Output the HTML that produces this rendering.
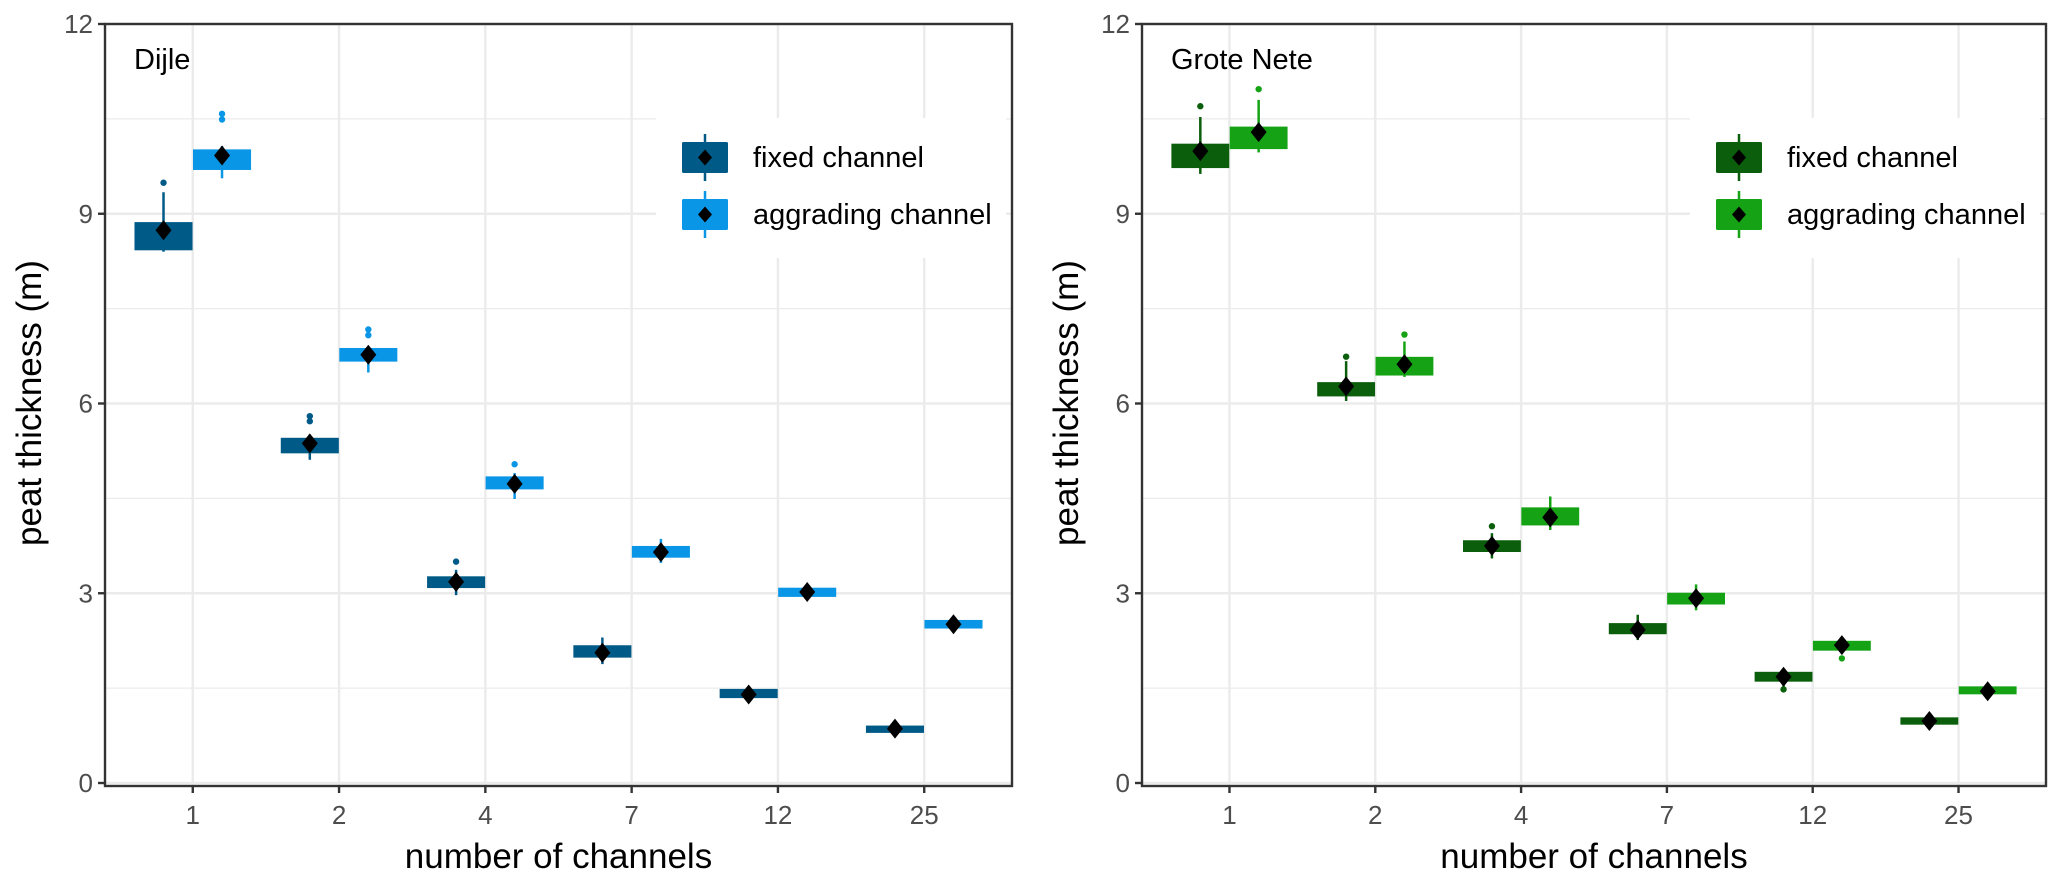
<!DOCTYPE html>
<html><head><meta charset="utf-8"><style>
html,body{margin:0;padding:0;background:#fff;}
svg{display:block;font-family:"Liberation Sans",Arial,sans-serif;}
</style></head><body>
<svg id="chart" width="2067" height="885" viewBox="0 0 2067 885" xmlns="http://www.w3.org/2000/svg"></svg>
<script>
const categories = ["1","2","4","7","12","25"];
const yTicks = [0,3,6,9,12];
const yMinor = [1.5,4.5,7.5,10.5];
const seriesNames = ["fixed channel","aggrading channel"];
// each box: [lowerWhisker, q1, q3, upperWhisker, mean]
const dijleFixed = [[8.4,8.43,8.86,9.34,8.74],[5.11,5.22,5.45,5.51,5.37],[2.97,3.09,3.26,3.37,3.18],[1.88,1.99,2.17,2.3,2.06],[1.28,1.35,1.48,1.5,1.40],[0.76,0.8,0.9,0.94,0.86]];
const dijleAgg = [[9.56,9.70,10.01,10.07,9.92],[6.49,6.67,6.87,6.9,6.77],[4.49,4.65,4.84,4.9,4.73],[3.48,3.57,3.74,3.86,3.65],[2.9,2.95,3.08,3.12,3.02],[2.40,2.45,2.57,2.62,2.51]];
const dijleFixedOut = [[9.49],[5.72,5.80],[3.5],[],[],[]];
const dijleAggOut = [[10.49,10.58],[7.08,7.17],[5.04],[],[],[]];
const neteFixed = [[9.63,9.73,10.1,10.53,9.99],[6.04,6.12,6.33,6.67,6.27],[3.55,3.66,3.83,3.95,3.75],[2.26,2.36,2.52,2.66,2.42],[1.52,1.61,1.75,1.78,1.68],[0.87,0.93,1.03,1.07,0.98]];
const neteAgg = [[9.97,10.03,10.37,10.8,10.29],[6.42,6.45,6.73,6.98,6.62],[4.0,4.08,4.35,4.53,4.2],[2.73,2.83,3.0,3.14,2.92],[2.05,2.1,2.24,2.28,2.18],[1.36,1.41,1.52,1.56,1.45]];
const neteFixedOut = [[10.7],[6.74],[4.06],[],[1.48],[]];
const neteAggOut = [[10.97],[7.09],[],[],[1.97],[]];

const NS="http://www.w3.org/2000/svg";
const svg=document.getElementById('chart');
function mk(tag,attrs,parent){const e=document.createElementNS(NS,tag);for(const k in attrs)e.setAttribute(k,attrs[k]);(parent||svg).appendChild(e);return e;}

const panels=[
 {key:'dijle',label:'Dijle',x0:105,x1:1012,cols:['#005a87','#0a96e6'],data:[dijleFixed,dijleAgg],outs:[dijleFixedOut,dijleAggOut]},
 {key:'grote-nete',label:'Grote Nete',x0:1142,x1:2046,cols:['#0b5e0b','#15a315'],data:[neteFixed,neteAgg],outs:[neteFixedOut,neteAggOut]}
];
const yTop=24,yBot=786;
const y=v=>783-v*(783-24)/12;

panels.forEach(p=>{
  const g=mk('g',{});
  
  
  const n=categories.length;
  const step=(p.x1-p.x0)/(n-1+1.2);
  const xc=i=>p.x0+step*(0.6+i);
  // grid
  yMinor.forEach(v=>{const l=mk('line',{x1:p.x0,x2:p.x1,y1:y(v),y2:y(v),stroke:'#ebebeb','stroke-width':1.2},g);
    });
  yTicks.forEach(v=>{const l=mk('line',{x1:p.x0,x2:p.x1,y1:y(v),y2:y(v),stroke:'#ebebeb','stroke-width':2.4},g);
    });
  categories.forEach((c,i)=>{const l=mk('line',{x1:xc(i),x2:xc(i),y1:yTop,y2:yBot,stroke:'#ebebeb','stroke-width':2.4},g);
    });
  // legend
  const lg=mk('g',{},g);
  
  
  const lx=p.x1-356;
  mk('rect',{x:lx,y:118,width:350,height:140,fill:'#fff'},lg);
  seriesNames.forEach((s,k)=>{
    const ky=142+k*57;
    const e=mk('g',{},lg);
    
    
    const kx=lx+26;
    mk('line',{x1:kx+23,x2:kx+23,y1:ky-8,y2:ky+39,stroke:p.cols[k],'stroke-width':2.5},e);
    mk('rect',{x:kx,y:ky,width:46,height:31,fill:p.cols[k],rx:1.5},e);
    mk('path',{d:`M${kx+23} ${ky+7.5}l7 8l-7 8l-7 -8z`,fill:'#000'},e);
    const t=mk('text',{x:lx+97,y:ky+25,'font-size':29,fill:'#000'},e);t.textContent=s;
  });
  // boxes
  p.data.forEach((ser,k)=>{
    ser.forEach((d,i)=>{
      const cx=xc(i)+(k?0.2:-0.2)*step, w=0.39*step;
      const b=mk('g',{},g);
      
      
      mk('line',{x1:cx,x2:cx,y1:y(d[0]),y2:y(d[3]),stroke:p.cols[k],'stroke-width':2.5},b);
      mk('rect',{x:cx-w/2,y:y(d[2]),width:w,height:Math.max(2,y(d[1])-y(d[2])),fill:p.cols[k],stroke:p.cols[k],'stroke-width':1},b);
      p.outs[k][i].forEach(o=>{const c=mk('circle',{cx:cx,cy:y(o),r:3.2,fill:p.cols[k]},b);
        });
      const m=mk('path',{d:`M${cx} ${y(d[4])-10}l8 10l-8 10l-8 -10z`,fill:'#000'},b);
      
    });
  });
  // border
  const br=mk('rect',{x:p.x0,y:yTop,width:p.x1-p.x0,height:yBot-yTop,fill:'none',stroke:'#333','stroke-width':2.4},g);
  
  // y ticks
  yTicks.forEach(v=>{
    mk('line',{x1:p.x0-7,x2:p.x0,y1:y(v),y2:y(v),stroke:'#333','stroke-width':2.4},g);
    const t=mk('text',{x:p.x0-12,y:y(v)+9,'font-size':26,fill:'#4d4d4d','text-anchor':'end'},g);
    
    t.textContent=v;
  });
  categories.forEach((c,i)=>{
    mk('line',{x1:xc(i),x2:xc(i),y1:yBot,y2:yBot+7,stroke:'#333','stroke-width':2.4},g);
    const t=mk('text',{x:xc(i),y:yBot+38,'font-size':26,fill:'#4d4d4d','text-anchor':'middle'},g);
    
    t.textContent=c;
  });
  const pl=mk('text',{x:p.x0+29,y:69,'font-size':29,fill:'#000'},g);
  
  pl.textContent=p.label;
  const xt=mk('text',{x:(p.x0+p.x1)/2,y:868,'font-size':35,fill:'#000','text-anchor':'middle'},g);
  
  xt.textContent='number of channels';
  const yc=403, ytx=p.x0-64;
  const yt=mk('text',{x:ytx,y:yc,'font-size':35,fill:'#000','text-anchor':'middle',transform:`rotate(-90 ${ytx} ${yc})`},g);
  
  yt.textContent='peat thickness (m)';
});
</script>
</body></html>
